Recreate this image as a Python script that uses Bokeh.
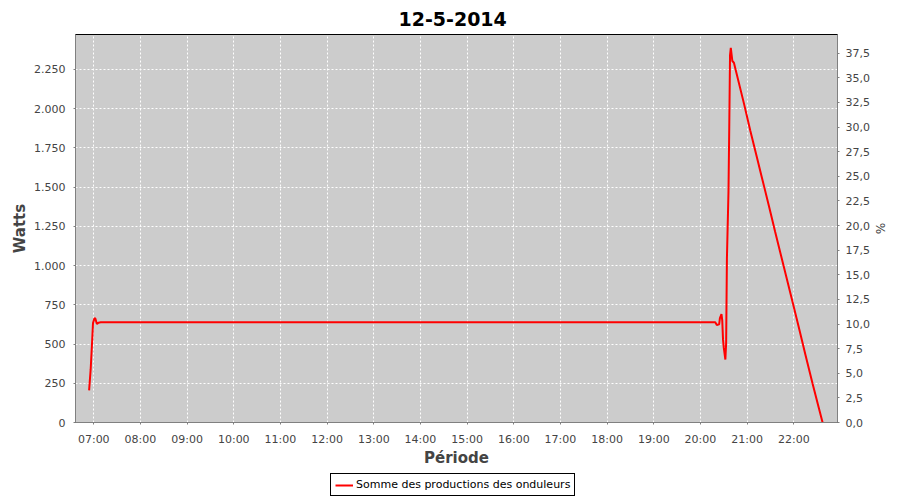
import pandas as pd
from bokeh.plotting import figure
from bokeh.layouts import column
from bokeh.models import (Range1d, LinearAxis, DatetimeAxis, FixedTicker, DatetimeTickFormatter,
                          CustomJSTickFormatter, Legend, LegendItem, Title, Grid)
from bokeh.embed import file_html
from bokeh.resources import INLINE

# ---- data ----
day = "2014-05-12"
times = ["06:54", "06:56", "06:57", "06:58", "06:59", "07:01", "07:02", "07:04", "07:06", "07:09",
         "20:19", "20:21", "20:24", "20:25", "20:27", "20:28", "20:29", "20:30", "20:32", "20:33",
         "20:34", "20:36", "20:37", "20:38", "20:39", "20:41", "20:43", "20:56", "21:04", "21:13",
         "21:19", "21:28", "21:36", "21:47", "21:58", "22:06", "22:15", "22:24", "22:32", "22:37"]
watts = [205, 338, 433, 528, 634, 665, 662, 627, 636, 638,
         638, 621, 625, 665, 691, 650, 528, 475, 401, 507,
         1046, 1468, 1880, 2340, 2387, 2303, 2292, 2030, 1860, 1680,
         1560, 1380, 1215, 995, 775, 615, 430, 250, 95, 0]
hour_ticks = ["07:00", "08:00", "09:00", "10:00", "11:00", "12:00", "13:00", "14:00",
              "15:00", "16:00", "17:00", "18:00", "19:00", "20:00", "21:00", "22:00"]
watt_ticks = [0, 250, 500, 750, 1000, 1250, 1500, 1750, 2000, 2250]
pct_ticks = [0, 2.5, 5, 7.5, 10, 12.5, 15, 17.5, 20, 22.5, 25, 27.5, 30, 32.5, 35, 37.5]
series_name = "Somme des productions des onduleurs"

x = pd.to_datetime([f"{day} {t}" for t in times])
tick_ms = [pd.Timestamp(f"{day} {t}").value / 1e6 for t in hour_ticks]

FONT = "DejaVu Sans"
LBL = "#444444"

p = figure(frame_width=762, frame_height=388, output_backend="svg", toolbar_location=None,
           x_axis_type=None, y_axis_type=None,
           x_range=Range1d(pd.Timestamp(f"{day} 06:36:30"), pd.Timestamp(f"{day} 22:56:10")),
           y_range=Range1d(0, 2472),
           min_border_left=75, min_border_right=47, min_border_top=34, min_border_bottom=48,
           background_fill_color="#cccccc", border_fill_color="white")
p.title = Title(text="12-5-2014", align="left", text_font=FONT, text_font_size="19px",
                text_font_style="bold", text_color="black", offset=323, standoff=18)
p.outline_line_color = "black"
p.outline_line_width = 1
p.outline_line_alpha = 1

p.extra_y_ranges = {"pct": Range1d(0, 39.4)}

# x axis
xaxis = DatetimeAxis(ticker=FixedTicker(ticks=tick_ms),
                     formatter=DatetimeTickFormatter(hours="%H:%M", minutes="%H:%M", hourmin="%H:%M",
                                                     minsec="%H:%M", days="%H:%M"),
                     axis_label="Période")
p.add_layout(xaxis, "below")
# left axis
yaxis = LinearAxis(ticker=FixedTicker(ticks=watt_ticks), axis_label="Watts",
                   formatter=CustomJSTickFormatter(code="""
                       return Math.round(tick).toString().replace(/\\B(?=(\\d{3})+(?!\\d))/g, '.');
                   """))
p.add_layout(yaxis, "left")
# right axis
raxis = LinearAxis(y_range_name="pct", ticker=FixedTicker(ticks=pct_ticks), axis_label="%",
                   formatter=CustomJSTickFormatter(code="return tick.toFixed(1).replace('.', ',');"))
p.add_layout(raxis, "right")

for ax in (xaxis, yaxis, raxis):
    ax.axis_line_color = "#808080"
    ax.major_tick_line_color = "#808080"
    ax.major_tick_out = 2
    ax.major_tick_in = 0
    ax.minor_tick_out = 0
    ax.minor_tick_in = 0
    ax.major_label_text_font = FONT
    ax.major_label_text_font_size = "11px"
    ax.major_label_text_color = LBL
    ax.axis_label_text_font = FONT
    ax.axis_label_text_font_size = "15px"
    ax.axis_label_text_font_style = "bold"
    ax.axis_label_text_color = LBL

xaxis.major_label_standoff = 8
xaxis.axis_label_standoff = 0
yaxis.major_label_standoff = 8
yaxis.axis_label_standoff = 2
raxis.major_label_standoff = 6
raxis.axis_label_standoff = 0
raxis.axis_label_text_font_style = "normal"
raxis.axis_label_text_font_size = "12px"

xgrid = Grid(dimension=0, ticker=FixedTicker(ticks=tick_ms))
ygrid = Grid(dimension=1, ticker=FixedTicker(ticks=watt_ticks))
for g in (xgrid, ygrid):
    g.grid_line_color = "white"
    g.grid_line_dash = "2 2"
    g.grid_line_width = 1
    p.add_layout(g)

p.line(x, watts, line_color="red", line_width=2)

# legend strip under the chart (same series, drawn out of view, only its legend entry shows)
p2 = figure(width=884, height=27, output_backend="svg", toolbar_location=None,
            x_axis_type=None, y_axis_type=None,
            x_range=Range1d(0, 1), y_range=Range1d(0, 1),
            min_border_left=0, min_border_right=0, min_border_top=0, min_border_bottom=0,
            background_fill_color="white", border_fill_color="white", outline_line_color=None)
r2 = p2.line(x, watts, line_color="red", line_width=2)
legend = Legend(items=[LegendItem(label=series_name, renderers=[r2])],
                location=(255, 1), orientation="horizontal",
                border_line_color="black", border_line_width=1, border_line_alpha=1,
                background_fill_color="white", background_fill_alpha=1,
                label_text_font=FONT, label_text_font_size="11px", label_text_color="black",
                padding=4, margin=0, spacing=0, glyph_width=18, glyph_height=12,
                label_height=12, label_standoff=3)
p2.add_layout(legend, "center")

open("out.html", "w").write(file_html(column(p, p2, spacing=0), INLINE))
